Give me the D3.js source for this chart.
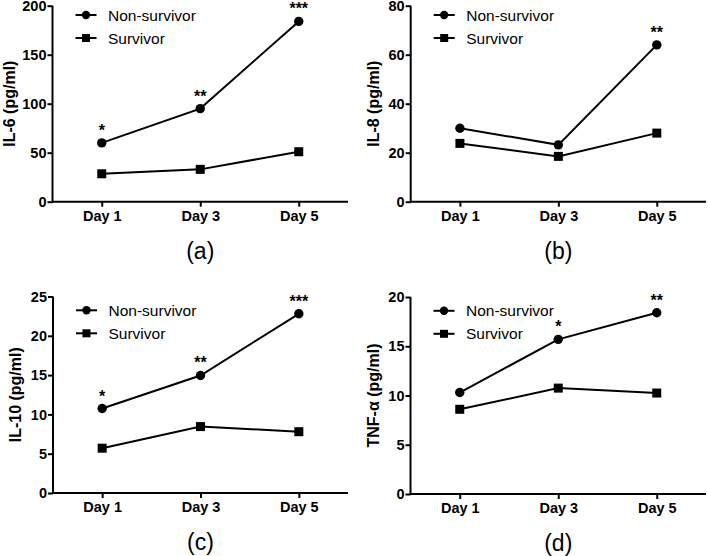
<!DOCTYPE html>
<html>
<head>
<meta charset="utf-8">
<script src="https://cdn.jsdelivr.net/npm/d3@7"></script>
<style>
  html, body { margin: 0; padding: 0; background: #fff; }
  svg { display: block; font-family: "Liberation Sans", Arial, Helvetica, sans-serif; }
</style>
</head>
<body>
<svg id="chart" width="708" height="556"></svg>
<script>
// ---------- data ----------
const days = ["Day 1", "Day 3", "Day 5"];
const seriesNames = ["Non-survivor", "Survivor"];

const il6NonSurvivor = [60, 95, 184];
const il6Survivor = [28.5, 33, 51];
const il6Stars = ["*", "**", "***"];
const il6Ticks = [0, 50, 100, 150, 200];

const il8NonSurvivor = [30, 23.2, 64];
const il8Survivor = [23.8, 18.5, 28];
const il8Stars = ["", "", "**"];
const il8Ticks = [0, 20, 40, 60, 80];

const il10NonSurvivor = [10.75, 14.95, 22.8];
const il10Survivor = [5.7, 8.45, 7.8];
const il10Stars = ["*", "**", "***"];
const il10Ticks = [0, 5, 10, 15, 20, 25];

const tnfNonSurvivor = [10.3, 15.7, 18.4];
const tnfSurvivor = [8.6, 10.75, 10.25];
const tnfStars = ["", "*", "**"];
const tnfTicks = [0, 5, 10, 15, 20];

const panels = [
  { title: "IL-6 (pg/ml)", label: "(a)", ns: il6NonSurvivor, s: il6Survivor, stars: il6Stars, ticks: il6Ticks,
    x0: 52.5, x1: 348, top: 5.7, bottom: 201.7, titleX: -37.5, legendDy: 9.3 },
  { title: "IL-8 (pg/ml)", label: "(b)", ns: il8NonSurvivor, s: il8Survivor, stars: il8Stars, ticks: il8Ticks,
    x0: 410.7, x1: 706, top: 5.7, bottom: 201.7, titleX: -32, legendDy: 9.3 },
  { title: "IL-10 (pg/ml)", label: "(c)", ns: il10NonSurvivor, s: il10Survivor, stars: il10Stars, ticks: il10Ticks,
    x0: 53, x1: 348, top: 296.5, bottom: 493, titleX: -32, legendDy: 13.8 },
  { title: "TNF-\u03b1 (pg/ml)", label: "(d)", ns: tnfNonSurvivor, s: tnfSurvivor, stars: tnfStars, ticks: tnfTicks,
    x0: 410.5, x1: 706, top: 297, bottom: 494, titleX: -32, legendDy: 13.8 }
];

const svg = d3.select("#chart");

panels.forEach(p => {
  const g = svg.append("g");
  const x = d3.scalePoint().domain(days).range([p.x0, p.x1]).padding(0.5);
  const y = d3.scaleLinear().domain([0, d3.max(p.ticks)]).range([p.bottom, p.top]);

  // axes
  const xAxis = g.append("g").attr("transform", `translate(0,${p.bottom})`)
    .call(d3.axisBottom(x).tickSize(5).tickSizeOuter(0).tickPadding(4));
  const yAxis = g.append("g").attr("transform", `translate(${p.x0},0)`)
    .call(d3.axisLeft(y).tickValues(p.ticks).tickSize(5).tickSizeOuter(0).tickPadding(1));
  [xAxis, yAxis].forEach(a => {
    a.selectAll("path, line").attr("stroke", "#000").attr("stroke-width", 2);
    a.selectAll("text").attr("fill", "#000").attr("font-size", 14.5).attr("font-weight", "bold")
      .attr("font-family", "'Liberation Sans', Arial, Helvetica, sans-serif");
  });
  yAxis.select(".domain").attr("d", `M0,${p.bottom + 1}V${p.top}`);
  xAxis.select(".domain").attr("d", `M${p.x0},0H${p.x1}`);

  // y title
  g.append("text")
    .attr("transform", `translate(${p.x0 + p.titleX},${(p.top + p.bottom) / 2}) rotate(-90)`)
    .attr("text-anchor", "middle")
    .attr("font-size", 16).attr("font-weight", "bold")
    .text(p.title);

  // panel label
  g.append("text")
    .attr("x", x("Day 3")).attr("y", p.bottom + 57)
    .attr("text-anchor", "middle").attr("font-size", 23)
    .text(p.label);

  const line = d3.line().x((d, i) => x(days[i])).y(d => y(d));

  // survivor
  g.append("path").datum(p.s).attr("d", line).attr("fill", "none").attr("stroke", "#000").attr("stroke-width", 2);
  g.selectAll(".sq").data(p.s).enter().append("rect")
    .attr("x", (d, i) => x(days[i]) - 4.5).attr("y", d => y(d) - 4.5)
    .attr("width", 9).attr("height", 9).attr("fill", "#000");

  // non-survivor
  g.append("path").datum(p.ns).attr("d", line).attr("fill", "none").attr("stroke", "#000").attr("stroke-width", 2);
  g.selectAll(".ci").data(p.ns).enter().append("circle")
    .attr("cx", (d, i) => x(days[i])).attr("cy", d => y(d)).attr("r", 4.7).attr("fill", "#000");

  // significance stars
  g.selectAll(".star").data(p.stars).enter().append("text")
    .attr("x", (d, i) => x(days[i])).attr("y", (d, i) => y(p.ns[i]) - 7)
    .attr("text-anchor", "middle").attr("font-size", 16).attr("font-weight", "bold")
    .text(d => d);

  // legend
  const lg = g.append("g").attr("transform", `translate(${p.x0},${p.top + p.legendDy})`);
  seriesNames.forEach((name, k) => {
    const ly = k * 23;
    lg.append("line").attr("x1", 23).attr("x2", 44).attr("y1", ly).attr("y2", ly)
      .attr("stroke", "#000").attr("stroke-width", 2);
    if (k === 0) {
      lg.append("circle").attr("cx", 33.5).attr("cy", ly).attr("r", 4.2).attr("fill", "#000");
    } else {
      lg.append("rect").attr("x", 29.5).attr("y", ly - 4).attr("width", 8).attr("height", 8).attr("fill", "#000");
    }
    lg.append("text").attr("x", 55.5).attr("y", ly + 5.5).attr("font-size", 15.5).text(name);
  });
});
</script>
</body>
</html>
